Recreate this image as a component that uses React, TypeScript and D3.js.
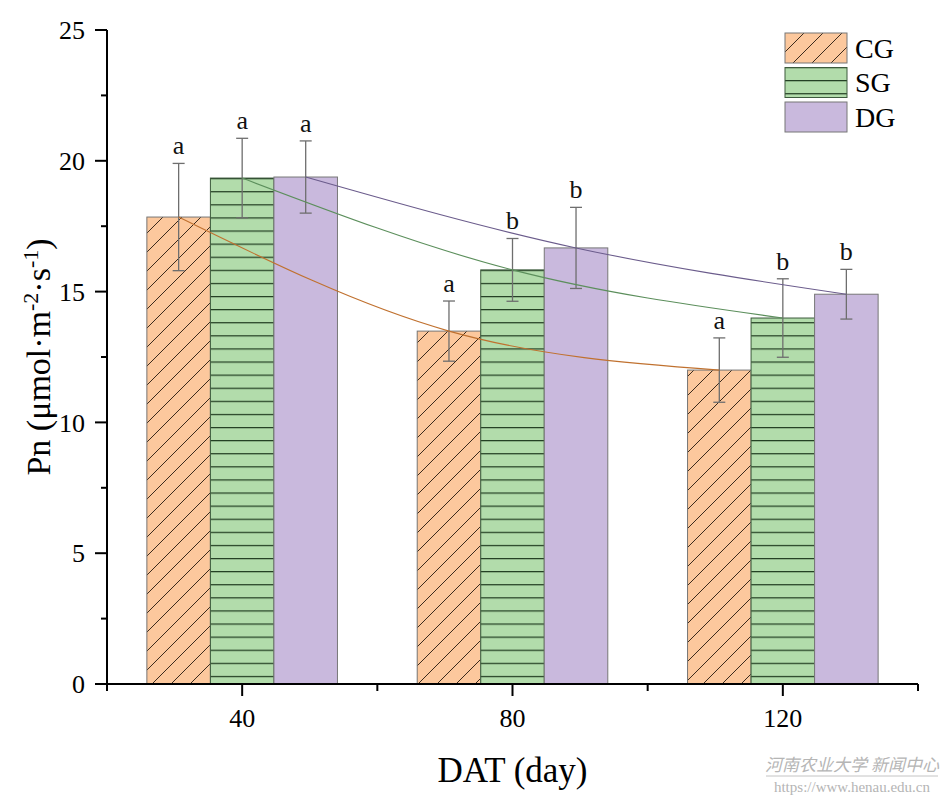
import { useEffect, useRef } from 'react';
import * as d3 from 'd3';

const days = [40, 80, 120];
const groups = ['CG', 'SG', 'DG'];

const cgMeans = [17.85, 13.49, 12.0];
const sgMeans = [19.34, 15.83, 13.99];
const dgMeans = [19.38, 16.67, 14.9];

const cgErr = [2.05, 1.15, 1.23];
const sgErr = [1.52, 1.2, 1.5];
const dgErr = [1.38, 1.55, 0.95];

const cgLetters = ['a', 'a', 'a'];
const sgLetters = ['a', 'b', 'b'];
const dgLetters = ['a', 'b', 'b'];

const yTicks = [0, 5, 10, 15, 20, 25];

const fills = ['#fcc89d', '#b2dcab', '#c9b9dd'];
const lineColors = ['#c0712f', '#5c8f5c', '#6b5c8c'];
const patterns = ['url(#diag)', 'url(#horiz)', 'none'];

export default function App() {
  const svgRef = useRef<SVGSVGElement>(null);

  useEffect(() => {
    if (!svgRef.current) return;
    const svg = d3.select(svgRef.current);
    svg.selectAll('*').remove();

    const width = 946;
    const height = 800;
    svg.attr('width', width).attr('height', height);

    const font = '"Liberation Serif", "Times New Roman", serif';

    const x = d3.scaleLinear().domain([20, 140]).range([107, 918]);
    const y = d3.scaleLinear().domain([0, 25]).range([684, 30]);
    const barW = 9.4; // in day units

    const series = [
      { name: groups[0], means: cgMeans, errs: cgErr, letters: cgLetters },
      { name: groups[1], means: sgMeans, errs: sgErr, letters: sgLetters },
      { name: groups[2], means: dgMeans, errs: dgErr, letters: dgLetters },
    ];

    // patterns
    const defs = svg.append('defs');
    const diag = defs.append('pattern')
      .attr('id', 'diag')
      .attr('patternUnits', 'userSpaceOnUse')
      .attr('width', 19)
      .attr('height', 19);
    diag.append('rect').attr('width', 19).attr('height', 19).attr('fill', fills[0]);
    diag.append('path')
      .attr('d', 'M0,19 L19,0 M-5,5 L5,-5 M14,24 L24,14')
      .attr('stroke', '#3b2a1c')
      .attr('stroke-width', 1);

    const horiz = defs.append('pattern')
      .attr('id', 'horiz')
      .attr('patternUnits', 'userSpaceOnUse')
      .attr('width', 10)
      .attr('height', 13.1)
      .attr('y', y(sgMeans[0]));
    horiz.append('rect').attr('width', 10).attr('height', 13.1).attr('fill', fills[1]);
    horiz.append('line')
      .attr('x1', 0).attr('x2', 10).attr('y1', 0.6).attr('y2', 0.6)
      .attr('stroke', '#1f3a1f')
      .attr('stroke-width', 1.2);

    // bars
    series.forEach((s, i) => {
      const off = (i - 1) * barW;
      const g = svg.append('g');
      g.selectAll('rect.fill')
        .data(days)
        .enter()
        .append('rect')
        .attr('x', (d) => x(d + off - barW / 2))
        .attr('y', (_, j) => y(s.means[j]))
        .attr('width', x(barW) - x(0))
        .attr('height', (_, j) => y(0) - y(s.means[j]))
        .attr('fill', fills[i]);
      if (patterns[i] !== 'none') {
        g.selectAll('rect.pat')
          .data(days)
          .enter()
          .append('rect')
          .attr('x', (d) => x(d + off - barW / 2))
          .attr('y', (_, j) => y(s.means[j]))
          .attr('width', x(barW) - x(0))
          .attr('height', (_, j) => y(0) - y(s.means[j]))
          .attr('fill', patterns[i]);
      }
      g.selectAll('rect.border')
        .data(days)
        .enter()
        .append('rect')
        .attr('x', (d) => x(d + off - barW / 2))
        .attr('y', (_, j) => y(s.means[j]))
        .attr('width', x(barW) - x(0))
        .attr('height', (_, j) => y(0) - y(s.means[j]))
        .attr('fill', 'none')
        .attr('stroke', i === 1 ? '#3d5a3d' : '#777')
        .attr('stroke-width', 1);
    });

    // error bars + letters
    series.forEach((s, i) => {
      const off = (i - 1) * barW;
      days.forEach((d, j) => {
        const cx = x(d + off);
        const top = y(s.means[j] + s.errs[j]);
        const bot = y(s.means[j] - s.errs[j]);
        svg.append('line')
          .attr('x1', cx).attr('x2', cx).attr('y1', top).attr('y2', bot)
          .attr('stroke', '#6e6e6e').attr('stroke-width', 1.3);
        [top, bot].forEach((yy) => {
          svg.append('line')
            .attr('x1', cx - 6).attr('x2', cx + 6).attr('y1', yy).attr('y2', yy)
            .attr('stroke', '#6e6e6e').attr('stroke-width', 1.3);
        });
        svg.append('text')
          .attr('x', cx)
          .attr('y', top - 9)
          .attr('text-anchor', 'middle')
          .attr('font-family', font)
          .attr('font-size', 26)
          .attr('fill', '#111')
          .text(s.letters[j]);
      });
    });

    // trend lines
    series.forEach((s, i) => {
      const off = (i - 1) * barW;
      const line = d3.line<number>()
        .x((d) => x(d + off))
        .y((_, j) => y(s.means[j]))
        .curve(d3.curveNatural);
      svg.append('path')
        .attr('d', line(days) || '')
        .attr('fill', 'none')
        .attr('stroke', lineColors[i])
        .attr('stroke-width', 1.1);
    });

    // y axis
    const yAxis = svg.append('g').attr('transform', `translate(${x(20)},0)`);
    yAxis.append('line')
      .attr('x1', 0).attr('x2', 0).attr('y1', y(25)).attr('y2', y(0))
      .attr('stroke', '#000').attr('stroke-width', 2);
    yTicks.forEach((t) => {
      yAxis.append('line')
        .attr('x1', -12).attr('x2', 0).attr('y1', y(t)).attr('y2', y(t))
        .attr('stroke', '#000').attr('stroke-width', 2);
      yAxis.append('text')
        .attr('x', -22)
        .attr('y', y(t))
        .attr('dy', '0.35em')
        .attr('text-anchor', 'end')
        .attr('font-family', font)
        .attr('font-size', 26)
        .text(t);
    });
    d3.range(2.5, 25, 5).forEach((t) => {
      yAxis.append('line')
        .attr('x1', -6).attr('x2', 0).attr('y1', y(t)).attr('y2', y(t))
        .attr('stroke', '#000').attr('stroke-width', 2);
    });

    // x axis
    const xAxis = svg.append('g').attr('transform', `translate(0,${y(0)})`);
    xAxis.append('line')
      .attr('x1', x(20)).attr('x2', x(140)).attr('y1', 0).attr('y2', 0)
      .attr('stroke', '#000').attr('stroke-width', 2);
    days.forEach((t) => {
      xAxis.append('line')
        .attr('x1', x(t)).attr('x2', x(t)).attr('y1', 0).attr('y2', 12)
        .attr('stroke', '#000').attr('stroke-width', 2);
      xAxis.append('text')
        .attr('x', x(t))
        .attr('y', 43)
        .attr('text-anchor', 'middle')
        .attr('font-family', font)
        .attr('font-size', 26)
        .text(t);
    });
    [20, 60, 100, 140].forEach((t) => {
      xAxis.append('line')
        .attr('x1', x(t)).attr('x2', x(t)).attr('y1', 0).attr('y2', 7)
        .attr('stroke', '#000').attr('stroke-width', 2);
    });

    // axis titles
    svg.append('text')
      .attr('x', x(80))
      .attr('y', 782)
      .attr('text-anchor', 'middle')
      .attr('font-family', font)
      .attr('font-size', 35)
      .text('DAT (day)');

    const yTitle = svg.append('text')
      .attr('transform', `translate(50,${y(12.5)}) rotate(-90)`)
      .attr('text-anchor', 'middle')
      .attr('font-family', font)
      .attr('font-size', 34);
    yTitle.append('tspan').text('Pn (μmol·m');
    yTitle.append('tspan').attr('dy', -12).attr('font-size', 22).text('-2');
    yTitle.append('tspan').attr('dy', 12).text('·s');
    yTitle.append('tspan').attr('dy', -12).attr('font-size', 22).text('-1');
    yTitle.append('tspan').attr('dy', 12).text(')');

    // legend
    const legend = svg.append('g').attr('transform', 'translate(785,33)');
    groups.forEach((name, i) => {
      const gy = i * 34.5;
      legend.append('rect')
        .attr('x', 0).attr('y', gy).attr('width', 62).attr('height', 30)
        .attr('fill', fills[i]);
      if (patterns[i] !== 'none') {
        legend.append('rect')
          .attr('x', 0).attr('y', gy).attr('width', 62).attr('height', 30)
          .attr('fill', patterns[i]);
      }
      legend.append('rect')
        .attr('x', 0).attr('y', gy).attr('width', 62).attr('height', 30)
        .attr('fill', 'none')
        .attr('stroke', i === 1 ? '#3d5a3d' : '#777')
        .attr('stroke-width', 1);
      legend.append('text')
        .attr('x', 70)
        .attr('y', gy + 15)
        .attr('dy', '0.35em')
        .attr('font-family', font)
        .attr('font-size', 28)
        .text(name);
    });

    // watermark
    svg.append('text')
      .attr('x', 852)
      .attr('y', 771)
      .attr('text-anchor', 'middle')
      .attr('font-family', '"Noto Sans CJK SC", sans-serif')
      .attr('font-size', 17)
      .attr('fill', '#b5b5b5')
      .attr('font-style', 'italic')
      .text('河南农业大学 新闻中心');
    svg.append('line')
      .attr('x1', 766).attr('x2', 938).attr('y1', 776).attr('y2', 776)
      .attr('stroke', '#c4c4c4').attr('stroke-width', 1);
    svg.append('text')
      .attr('x', 852)
      .attr('y', 792)
      .attr('text-anchor', 'middle')
      .attr('font-family', font)
      .attr('font-size', 15)
      .attr('fill', '#b5b5b5')
      .text('https://www.henau.edu.cn');
  }, []);

  return (
    <div style={{ position: 'absolute', left: 0, top: 0, background: '#fff' }}>
      <svg ref={svgRef} style={{ display: 'block' }} />
    </div>
  );
}
